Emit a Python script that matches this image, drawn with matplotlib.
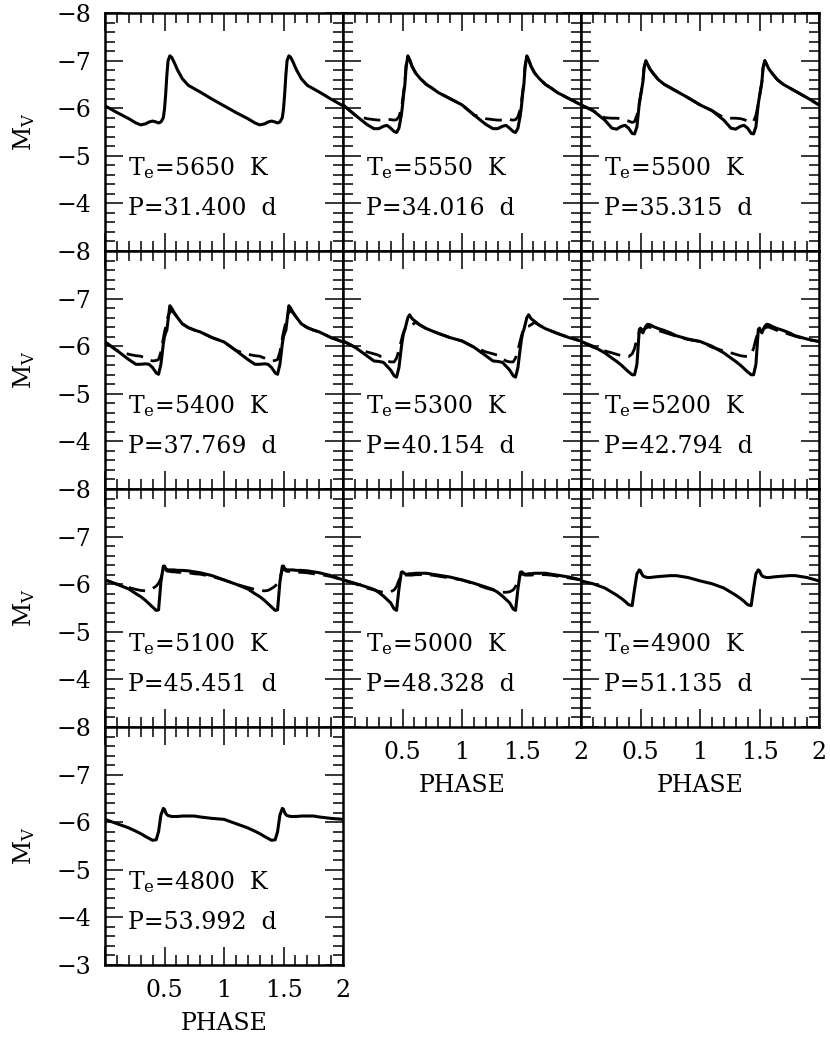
import matplotlib
matplotlib.use('Agg')
import matplotlib.pyplot as plt
from matplotlib.ticker import MultipleLocator, FuncFormatter

# phase grid for one pulsation cycle (repeated for the second cycle)
phase = [0.00, 0.10, 0.20, 0.26, 0.30, 0.34, 0.37, 0.40, 0.43, 0.45, 0.47, 0.49, 0.50,
         0.51, 0.52, 0.53, 0.545, 0.56, 0.58, 0.61, 0.65, 0.70, 0.75, 0.80, 0.90, 1.00]

temps = [5650, 5550, 5500, 5400, 5300, 5200, 5100, 5000, 4900, 4800]
periods = ['31.400', '34.016', '35.315', '37.769', '40.154', '42.794',
           '45.451', '48.328', '51.135', '53.992']

# solid curves (M_V)
mv_5650 = [-6.05, -5.91, -5.78, -5.69, -5.65, -5.67, -5.71, -5.73, -5.71, -5.69, -5.71, -5.80, -5.98,
           -6.30, -6.70, -7.00, -7.10, -7.07, -6.97, -6.80, -6.62, -6.48, -6.41, -6.34, -6.19, -6.05]
mv_5550 = [-6.07, -5.86, -5.66, -5.57, -5.57, -5.62, -5.64, -5.58, -5.51, -5.49, -5.58, -5.85, -6.05,
           -6.30, -6.50, -6.85, -7.10, -7.02, -6.88, -6.74, -6.62, -6.50, -6.42, -6.33, -6.20, -6.07]
mv_5500 = [-6.07, -5.95, -5.75, -5.58, -5.56, -5.62, -5.64, -5.58, -5.47, -5.46, -5.61, -6.10, -6.25,
           -6.40, -6.55, -6.85, -7.00, -6.92, -6.82, -6.72, -6.60, -6.50, -6.43, -6.36, -6.22, -6.07]
mv_5400 = [-6.09, -5.91, -5.72, -5.62, -5.62, -5.63, -5.62, -5.55, -5.44, -5.41, -5.62, -6.05, -6.20,
           -6.28, -6.34, -6.55, -6.85, -6.80, -6.71, -6.60, -6.47, -6.39, -6.34, -6.30, -6.18, -6.09]
mv_5300 = [-6.11, -5.98, -5.80, -5.69, -5.68, -5.66, -5.58, -5.50, -5.38, -5.35, -5.55, -5.97, -6.15,
           -6.28, -6.35, -6.45, -6.60, -6.66, -6.58, -6.52, -6.44, -6.37, -6.32, -6.27, -6.18, -6.11]
mv_5200 = [-6.10, -6.00, -5.86, -5.75, -5.68, -5.60, -5.53, -5.46, -5.40, -5.40, -5.62, -6.35, -6.38,
           -6.32, -6.28, -6.34, -6.42, -6.46, -6.45, -6.41, -6.37, -6.33, -6.28, -6.22, -6.15, -6.10]
mv_5100 = [-6.09, -6.00, -5.90, -5.80, -5.74, -5.66, -5.59, -5.52, -5.45, -5.46, -6.05, -6.38, -6.38,
           -6.33, -6.31, -6.30, -6.30, -6.30, -6.30, -6.29, -6.29, -6.28, -6.26, -6.24, -6.18, -6.09]
mv_5000 = [-6.09, -6.02, -5.94, -5.89, -5.83, -5.75, -5.68, -5.61, -5.48, -5.45, -5.90, -6.25, -6.26,
           -6.24, -6.22, -6.21, -6.21, -6.22, -6.22, -6.23, -6.23, -6.23, -6.21, -6.19, -6.15, -6.09]
mv_4900 = [-6.07, -6.01, -5.92, -5.83, -5.77, -5.70, -5.64, -5.57, -5.55, -5.90, -6.22, -6.30, -6.28,
           -6.22, -6.18, -6.16, -6.15, -6.14, -6.14, -6.15, -6.16, -6.17, -6.18, -6.18, -6.14, -6.07]
mv_4800 = [-6.06, -5.97, -5.88, -5.81, -5.76, -5.70, -5.66, -5.62, -5.63, -5.80, -6.15, -6.29, -6.27,
           -6.20, -6.16, -6.14, -6.13, -6.12, -6.12, -6.12, -6.13, -6.13, -6.13, -6.11, -6.08, -6.06]

# dashed curves (second model set)
mvd_5550 = [-6.07, -5.86, -5.78, -5.76, -5.75, -5.75, -5.77, -5.76, -5.75, -5.76, -5.82, -5.98, -6.15,
            -6.35, -6.55, -6.90, -7.08, -7.02, -6.88, -6.74, -6.62, -6.50, -6.42, -6.33, -6.20, -6.07]
mvd_5500 = [-6.07, -5.95, -5.80, -5.79, -5.79, -5.78, -5.76, -5.73, -5.70, -5.72, -5.85, -6.10, -6.25,
            -6.40, -6.55, -6.85, -7.00, -6.92, -6.82, -6.72, -6.60, -6.50, -6.43, -6.36, -6.22, -6.07]
mvd_5400 = [-6.09, -5.91, -5.83, -5.80, -5.79, -5.75, -5.71, -5.69, -5.70, -5.72, -5.88, -6.16, -6.30,
            -6.40, -6.52, -6.63, -6.72, -6.74, -6.70, -6.60, -6.47, -6.39, -6.34, -6.30, -6.18, -6.09]
mvd_5300 = [-6.11, -5.98, -5.88, -5.84, -5.81, -5.74, -5.69, -5.67, -5.67, -5.75, -5.92, -6.12, -6.22,
            -6.30, -6.36, -6.40, -6.41, -6.42, -6.45, -6.50, -6.44, -6.37, -6.32, -6.27, -6.18, -6.11]
mvd_5200 = [-6.10, -5.98, -5.90, -5.86, -5.83, -5.80, -5.79, -5.78, -5.84, -5.95, -6.15, -6.30, -6.33,
            -6.34, -6.35, -6.36, -6.38, -6.40, -6.40, -6.37, -6.33, -6.29, -6.25, -6.21, -6.14, -6.10]
mvd_5100 = [-6.09, -6.00, -5.93, -5.89, -5.87, -5.86, -5.87, -5.91, -5.96, -6.02, -6.12, -6.30, -6.33,
            -6.30, -6.28, -6.27, -6.27, -6.26, -6.26, -6.25, -6.25, -6.24, -6.22, -6.21, -6.16, -6.09]
mvd_5000 = [-6.09, -6.01, -5.92, -5.88, -5.85, -5.83, -5.83, -5.84, -5.88, -5.95, -6.08, -6.20, -6.22,
            -6.21, -6.20, -6.19, -6.19, -6.19, -6.19, -6.20, -6.20, -6.20, -6.19, -6.17, -6.13, -6.09]

solid = [mv_5650, mv_5550, mv_5500, mv_5400, mv_5300, mv_5200, mv_5100, mv_5000, mv_4900, mv_4800]
dashed = [None, mvd_5550, mvd_5500, mvd_5400, mvd_5300, mvd_5200, mvd_5100, mvd_5000, None, None]

plt.rcParams['font.family'] = 'DejaVu Serif'
plt.rcParams['mathtext.fontset'] = 'dejavuserif'

W, H = 830, 1038
fig = plt.figure(figsize=(W / 100, H / 100), dpi=100)

x0, y0, size = 105, 13, 238
xx = [p + c for c in (0, 1) for p in phase]
fs = 17

for i in range(10):
    row, col = divmod(i, 3)
    ax = fig.add_axes([(x0 + col * size) / W, 1 - (y0 + (row + 1) * size) / H, size / W, size / H])
    ax.plot(xx, solid[i] + solid[i], 'k-', lw=2.2, solid_joinstyle='round')
    if dashed[i] is not None:
        ax.plot(xx, dashed[i] + dashed[i], 'k--', lw=2.0, dashes=(6, 3))
    ax.set_xlim(0, 2)
    ax.set_ylim(-3, -8)
    ax.xaxis.set_major_locator(MultipleLocator(0.5))
    ax.xaxis.set_minor_locator(MultipleLocator(0.1))
    ax.yaxis.set_major_locator(MultipleLocator(1))
    ax.yaxis.set_minor_locator(MultipleLocator(0.2))
    ax.tick_params(which='both', direction='in', top=True, right=True, labelsize=fs)
    ax.tick_params(which='major', length=13, width=1.1, pad=10)
    ax.tick_params(which='minor', length=7, width=1.1)
    for s in ax.spines.values():
        s.set_linewidth(1.8)

    if i >= 7:
        ax.xaxis.set_major_formatter(FuncFormatter(lambda v, p: '' if v == 0 else '%g' % v))
        ax.set_xlabel('PHASE', fontsize=fs, labelpad=7)
    else:
        ax.set_xticklabels([])
    if col == 0:
        last = (i == 9)
        ax.yaxis.set_major_formatter(FuncFormatter(
            lambda v, p, last=last: ('\u2212%d' % round(-v)) if (v < -3.5 or last) else ''))
        ax.set_ylabel('M$_\\mathrm{V}$', fontsize=fs, labelpad=14)
    else:
        ax.set_yticklabels([])

    ax.text(0.19, -4.6, 'T$_\\mathrm{e}$=%d  K' % temps[i], fontsize=fs)
    ax.text(0.19, -3.76, 'P=%s  d' % periods[i], fontsize=fs)

fig.savefig('out.png', dpi=100)
